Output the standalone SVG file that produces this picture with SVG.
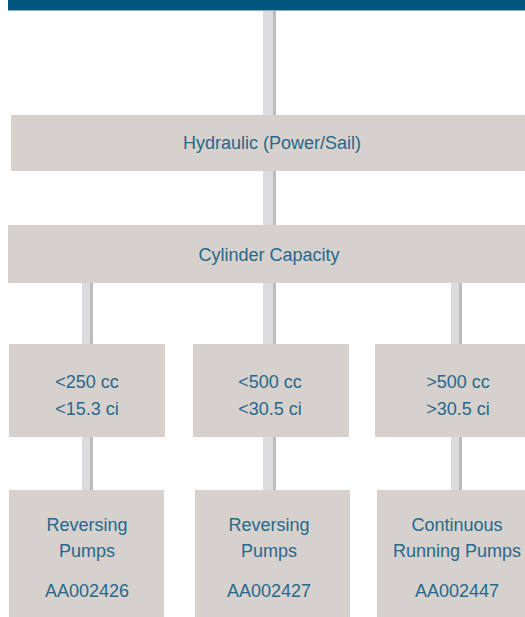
<svg xmlns="http://www.w3.org/2000/svg" width="525" height="617" viewBox="0 0 525 617">
<style>
.box{fill:#d6d1cd}
.t{font-family:"Liberation Sans",Arial,sans-serif;font-size:18px;fill:#27688c;text-anchor:middle}
.cl{fill:#dcdcdf}
.cd{fill:#bcbcbf}
</style>
<rect x="0" y="0" width="525" height="617" fill="#ffffff"/>
<g id="topbar">
<rect x="8" y="0" width="517" height="10" fill="#00557f"/>
<rect x="8" y="10" width="517" height="1" fill="#8aaec4"/>
</g>
<g id="connectors">
<rect class="cl" x="263" y="11" width="13" height="104"/><rect class="cd" x="273" y="11" width="3" height="104"/>
<rect class="cl" x="263" y="170" width="13" height="55"/><rect class="cd" x="273" y="170" width="3" height="55"/>
<rect class="cl" x="82" y="283" width="11" height="61"/><rect class="cd" x="90" y="283" width="3" height="61"/>
<rect class="cl" x="263" y="283" width="13" height="61"/><rect class="cd" x="273" y="283" width="3" height="61"/>
<rect class="cl" x="451" y="283" width="11" height="61"/><rect class="cd" x="459" y="283" width="3" height="61"/>
<rect class="cl" x="82" y="437" width="11" height="53"/><rect class="cd" x="90" y="437" width="3" height="53"/>
<rect class="cl" x="263" y="437" width="13" height="53"/><rect class="cd" x="273" y="437" width="3" height="53"/>
<rect class="cl" x="451" y="437" width="11" height="53"/><rect class="cd" x="459" y="437" width="3" height="53"/>
</g>
<g id="hydraulic">
<rect class="box" x="11" y="115" width="514" height="56"/>
<text class="t" x="272" y="149">Hydraulic (Power/Sail)</text>
</g>
<g id="cylinder">
<rect class="box" x="8" y="225" width="517" height="58"/>
<text class="t" x="269" y="261">Cylinder Capacity</text>
</g>
<g id="c250">
<rect class="box" x="9" y="344" width="156" height="93"/>
<text class="t" x="87" y="388">&lt;250 cc</text>
<text class="t" x="87" y="415">&lt;15.3 ci</text>
</g>
<g id="c500">
<rect class="box" x="193" y="344" width="156" height="93"/>
<text class="t" x="270" y="388">&lt;500 cc</text>
<text class="t" x="270" y="415">&lt;30.5 ci</text>
</g>
<g id="c500plus">
<rect class="box" x="375" y="344" width="150" height="93"/>
<text class="t" x="458" y="388">&gt;500 cc</text>
<text class="t" x="458" y="415">&gt;30.5 ci</text>
</g>
<g id="p1">
<rect class="box" x="9" y="490" width="155" height="127"/>
<text class="t" x="87" y="531">Reversing</text>
<text class="t" x="87" y="557">Pumps</text>
<text class="t" x="87" y="597">AA002426</text>
</g>
<g id="p2">
<rect class="box" x="195" y="490" width="155" height="127"/>
<text class="t" x="269" y="531">Reversing</text>
<text class="t" x="269" y="557">Pumps</text>
<text class="t" x="269" y="597">AA002427</text>
</g>
<g id="p3">
<rect class="box" x="377" y="490" width="148" height="127"/>
<text class="t" x="457" y="531">Continuous</text>
<text class="t" x="457" y="557">Running Pumps</text>
<text class="t" x="457" y="597">AA002447</text>
</g>
</svg>
